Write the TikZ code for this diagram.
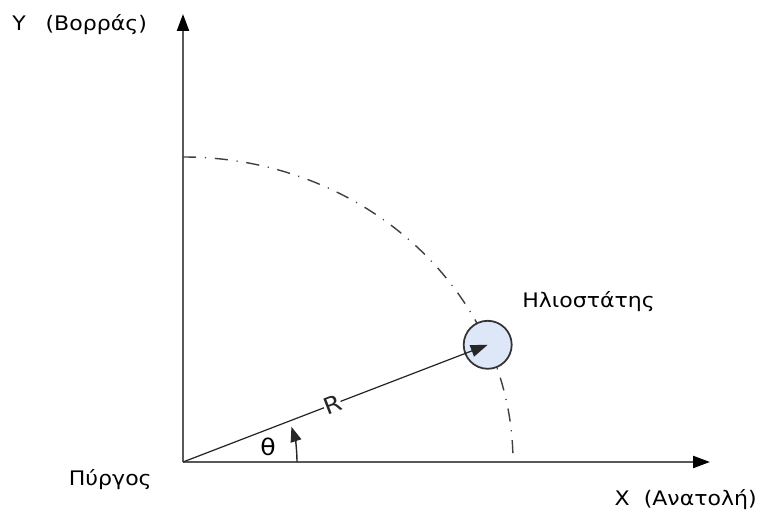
\documentclass[tikz,border=0pt]{standalone}
\usepackage{fontspec}
\setmainfont{DejaVu Sans}
\usetikzlibrary{arrows.meta}
\definecolor{helio}{RGB}{222,231,247}
\newcommand{\widetxt}[1]{\scalebox{1.1}[1]{#1}}

\begin{document}
\begin{tikzpicture}[x=0.02cm,y=0.02cm,
  axis/.style={draw=black!65,line width=1.3pt,-{Triangle[length=0.34cm,width=0.24cm,color=black]}},
  lbl/.style={inner sep=0pt,font=\fontsize{11.4}{13}\selectfont}]
  \useasboundingbox (0,0) rectangle (761,510);
  % axes from the tower
  \coordinate (O) at (183,48);
  \coordinate (Xend) at (710,48);
  \coordinate (Yend) at (183,496);
  \draw[axis] (O)--(Xend);
  \draw[axis] (O)--(Yend);
  % circle of radius R
  \draw[black!75,line width=0.8pt,dash pattern=on 7.5pt off 5pt on 0.6pt off 5pt]
    (183,353) arc[start angle=90,end angle=0,x radius=330,y radius=305];
  % heliostat
  \node[circle,draw=black!80,line width=1pt,fill=helio,minimum size=0.96cm,inner sep=0] (H) at (487.7,165.2) {};
  \draw[black!85,line width=0.7pt,-{Triangle[length=0.34cm,width=0.24cm]}] (O)--(H.center)
    node[pos=0.49,sloped,fill=white,inner sep=1pt,lbl,font=\fontsize{13}{15}\selectfont]{\widetxt{R}};
  % angle theta
  \draw[black!85,line width=0.8pt,-{Triangle[length=0.3cm,width=0.22cm]}] (297,48) arc[start angle=0,end angle=18,radius=114];
  \node[lbl,font=\fontsize{13}{15}\selectfont] (th) at (268,63) {\widetxt{θ}};
  % labels
  \node[lbl,anchor=west] (ylab) at (12,485) {\widetxt{Y\hspace{0.9em}(Βορράς)}};
  \node[lbl,anchor=west] (hlab) at (522,208) {\widetxt{Ηλιοστάτης}};
  \node[lbl,anchor=east] (plab) at (152,30) {\widetxt{Πύργος}};
  \node[lbl,anchor=east] (xlab) at (757,10) {\widetxt{X\ \ (Ανατολή)}};
\end{tikzpicture}
\end{document}
